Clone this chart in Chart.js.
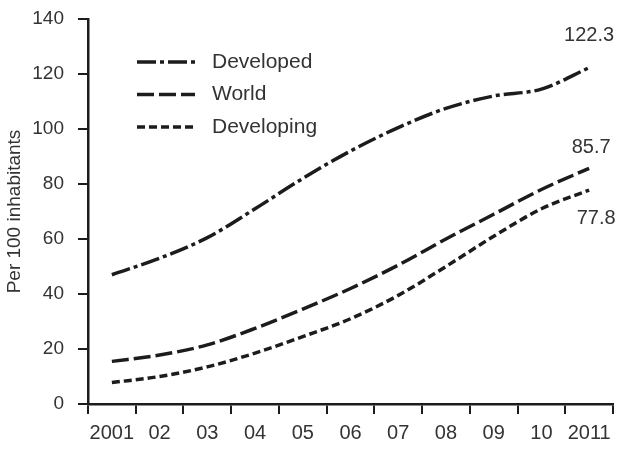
<!DOCTYPE html>
<html>
<head>
<meta charset="utf-8">
<script src="https://cdn.jsdelivr.net/npm/chart.js@4.4.1/dist/chart.umd.min.js"></script>
<style>
  html, body { margin: 0; padding: 0; background: #fff; }
  #wrap { width: 619px; height: 449px; position: relative; }
</style>
</head>
<body>
<div id="wrap"><canvas id="chart"></canvas></div>
<script>
// Dados (assinaturas por 100 habitantes)
const years = ["2001", "02", "03", "04", "05", "06", "07", "08", "09", "10", "2011"];
const developed = [47, 53, 60.5, 71, 82, 92, 100.5, 107.5, 112, 114.5, 122.3];
const world = [15.5, 17.8, 21.5, 27.5, 34.5, 42, 50.5, 60, 69, 78, 85.7];
const developing = [7.8, 10, 13.5, 18.5, 24.5, 31, 39.5, 50, 61, 71, 77.8];
const seriesNames = ["Developed", "World", "Developing"];
const endLabels = ["122.3", "85.7", "77.8"];
const yTicks = [0, 20, 40, 60, 80, 100, 120, 140];

const ink = "#1c1c1c";
const textColor = "#333";
const fontFamily = "'Liberation Sans', Arial, sans-serif";
const dashes = [[19, 4, 4, 4], [17, 5], [8, 4]];

// Legenda desenhada dentro da área do gráfico
const insideLegend = {
  id: "insideLegend",
  afterDraw(chart) {
    const ctx = chart.ctx;
    const area = chart.chartArea;
    ctx.save();
    chart.data.datasets.forEach((ds, i) => {
      const y = area.top + 43 + i * 32.5;
      const x0 = area.left + 49;
      ctx.beginPath();
      ctx.setLineDash(ds.borderDash);
      ctx.lineWidth = ds.borderWidth;
      ctx.strokeStyle = ds.borderColor;
      ctx.moveTo(x0, y);
      ctx.lineTo(x0 + 58, y);
      ctx.stroke();
      ctx.setLineDash([]);
      ctx.fillStyle = textColor;
      ctx.font = "21px " + fontFamily;
      ctx.textAlign = "left";
      ctx.textBaseline = "middle";
      ctx.fillText(ds.label, x0 + 75, y);
    });
    ctx.restore();
  }
};

// Valores no fim de cada linha
const endValues = {
  id: "endValues",
  afterDatasetsDraw(chart) {
    const ctx = chart.ctx;
    const offsets = [[0, -32], [2, -21], [7, 28]];
    ctx.save();
    ctx.fillStyle = textColor;
    ctx.font = "20px " + fontFamily;
    ctx.textAlign = "center";
    ctx.textBaseline = "middle";
    chart.data.datasets.forEach((ds, i) => {
      const pts = chart.getDatasetMeta(i).data;
      const p = pts[pts.length - 1];
      ctx.fillText(endLabels[i], p.x + offsets[i][0], p.y + offsets[i][1]);
    });
    ctx.restore();
  }
};

function makeDataset(name, values, i) {
  return {
    label: name,
    data: values,
    borderColor: ink,
    borderWidth: 3.5,
    borderDash: dashes[i],
    pointRadius: 0,
    fill: false,
    tension: 0.4,
    cubicInterpolationMode: "monotone"
  };
}

new Chart(document.getElementById("chart"), {
  type: "line",
  data: {
    labels: years,
    datasets: [
      makeDataset(seriesNames[0], developed, 0),
      makeDataset(seriesNames[1], world, 1),
      makeDataset(seriesNames[2], developing, 2)
    ]
  },
  options: {
    responsive: true,
    maintainAspectRatio: false,
    animation: false,
    layout: { padding: { left: 0, top: 19, right: 6, bottom: 0 } },
    plugins: {
      legend: { display: false },
      tooltip: { enabled: false }
    },
    scales: {
      x: {
        offset: true,
        grid: { offset: true, drawOnChartArea: false, tickLength: 10, color: ink, lineWidth: 2 },
        border: { color: ink, width: 2.5 },
        ticks: {
          color: textColor,
          padding: 7,
          maxRotation: 0,
          autoSkip: false,
          font: { family: fontFamily, size: 20 }
        },
        afterFit(scale) {
          scale.height = 45;
          scale.paddingLeft = 0;
          scale.paddingRight = 0;
        }
      },
      y: {
        min: 0,
        max: 140,
        afterBuildTicks(scale) { scale.ticks = yTicks.map(v => ({ value: v })); },
        grid: { drawOnChartArea: false, tickLength: 10, color: ink, lineWidth: 2 },
        border: { color: ink, width: 2.5 },
        ticks: {
          color: textColor,
          padding: 14,
          font: { family: fontFamily, size: 19 }
        },
        title: {
          display: true,
          text: "Per 100 inhabitants",
          color: textColor,
          padding: { top: 3, bottom: 0 },
          font: { family: fontFamily, size: 19 }
        },
        afterFit(scale) {
          scale.width = 88;
          scale.paddingTop = 0;
          scale.paddingBottom = 0;
        }
      }
    }
  },
  plugins: [insideLegend, endValues]
});
</script>
</body>
</html>
